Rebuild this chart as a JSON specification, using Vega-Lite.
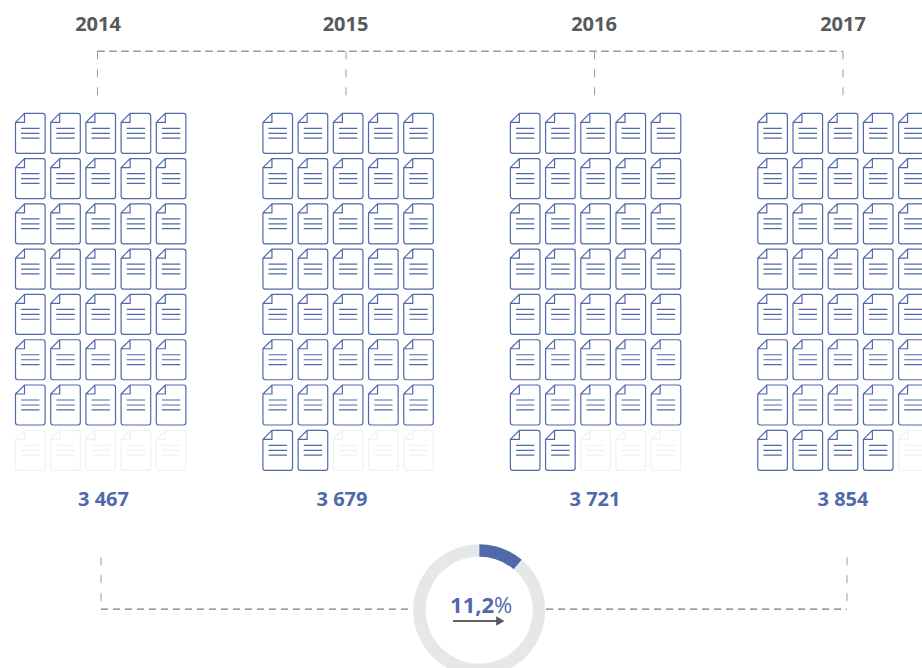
{"$schema":"https://vega.github.io/schema/vega-lite/v6.json","width":922,"height":668,"autosize":"none","padding":0,"background":"white","config":{"view":{"stroke":null},"font":"Open Sans"},"resolve":{"scale":{"x":"independent","color":"independent","theta":"independent"}},
"datasets":{"years":[{"year":2014,"total":"3 467"},{"year":2015,"total":"3 679"},{"year":2016,"total":"3 721"},{"year":2017,"total":"3 854"}],
"ring":[{"part":"growth","value":11.2,"ord":1},{"part":"rest","value":88.8,"ord":2}],
"docs":[
{"year":2014,"col":1,"row":1,"on":"y"},{"year":2014,"col":2,"row":1,"on":"y"},{"year":2014,"col":3,"row":1,"on":"y"},{"year":2014,"col":4,"row":1,"on":"y"},{"year":2014,"col":5,"row":1,"on":"y"},
{"year":2014,"col":1,"row":2,"on":"y"},{"year":2014,"col":2,"row":2,"on":"y"},{"year":2014,"col":3,"row":2,"on":"y"},{"year":2014,"col":4,"row":2,"on":"y"},{"year":2014,"col":5,"row":2,"on":"y"},
{"year":2014,"col":1,"row":3,"on":"y"},{"year":2014,"col":2,"row":3,"on":"y"},{"year":2014,"col":3,"row":3,"on":"y"},{"year":2014,"col":4,"row":3,"on":"y"},{"year":2014,"col":5,"row":3,"on":"y"},
{"year":2014,"col":1,"row":4,"on":"y"},{"year":2014,"col":2,"row":4,"on":"y"},{"year":2014,"col":3,"row":4,"on":"y"},{"year":2014,"col":4,"row":4,"on":"y"},{"year":2014,"col":5,"row":4,"on":"y"},
{"year":2014,"col":1,"row":5,"on":"y"},{"year":2014,"col":2,"row":5,"on":"y"},{"year":2014,"col":3,"row":5,"on":"y"},{"year":2014,"col":4,"row":5,"on":"y"},{"year":2014,"col":5,"row":5,"on":"y"},
{"year":2014,"col":1,"row":6,"on":"y"},{"year":2014,"col":2,"row":6,"on":"y"},{"year":2014,"col":3,"row":6,"on":"y"},{"year":2014,"col":4,"row":6,"on":"y"},{"year":2014,"col":5,"row":6,"on":"y"},
{"year":2014,"col":1,"row":7,"on":"y"},{"year":2014,"col":2,"row":7,"on":"y"},{"year":2014,"col":3,"row":7,"on":"y"},{"year":2014,"col":4,"row":7,"on":"y"},{"year":2014,"col":5,"row":7,"on":"y"},
{"year":2014,"col":1,"row":8,"on":"n"},{"year":2014,"col":2,"row":8,"on":"n"},{"year":2014,"col":3,"row":8,"on":"n"},{"year":2014,"col":4,"row":8,"on":"n"},{"year":2014,"col":5,"row":8,"on":"n"},
{"year":2015,"col":1,"row":1,"on":"y"},{"year":2015,"col":2,"row":1,"on":"y"},{"year":2015,"col":3,"row":1,"on":"y"},{"year":2015,"col":4,"row":1,"on":"y"},{"year":2015,"col":5,"row":1,"on":"y"},
{"year":2015,"col":1,"row":2,"on":"y"},{"year":2015,"col":2,"row":2,"on":"y"},{"year":2015,"col":3,"row":2,"on":"y"},{"year":2015,"col":4,"row":2,"on":"y"},{"year":2015,"col":5,"row":2,"on":"y"},
{"year":2015,"col":1,"row":3,"on":"y"},{"year":2015,"col":2,"row":3,"on":"y"},{"year":2015,"col":3,"row":3,"on":"y"},{"year":2015,"col":4,"row":3,"on":"y"},{"year":2015,"col":5,"row":3,"on":"y"},
{"year":2015,"col":1,"row":4,"on":"y"},{"year":2015,"col":2,"row":4,"on":"y"},{"year":2015,"col":3,"row":4,"on":"y"},{"year":2015,"col":4,"row":4,"on":"y"},{"year":2015,"col":5,"row":4,"on":"y"},
{"year":2015,"col":1,"row":5,"on":"y"},{"year":2015,"col":2,"row":5,"on":"y"},{"year":2015,"col":3,"row":5,"on":"y"},{"year":2015,"col":4,"row":5,"on":"y"},{"year":2015,"col":5,"row":5,"on":"y"},
{"year":2015,"col":1,"row":6,"on":"y"},{"year":2015,"col":2,"row":6,"on":"y"},{"year":2015,"col":3,"row":6,"on":"y"},{"year":2015,"col":4,"row":6,"on":"y"},{"year":2015,"col":5,"row":6,"on":"y"},
{"year":2015,"col":1,"row":7,"on":"y"},{"year":2015,"col":2,"row":7,"on":"y"},{"year":2015,"col":3,"row":7,"on":"y"},{"year":2015,"col":4,"row":7,"on":"y"},{"year":2015,"col":5,"row":7,"on":"y"},
{"year":2015,"col":1,"row":8,"on":"y"},{"year":2015,"col":2,"row":8,"on":"y"},{"year":2015,"col":3,"row":8,"on":"n"},{"year":2015,"col":4,"row":8,"on":"n"},{"year":2015,"col":5,"row":8,"on":"n"},
{"year":2016,"col":1,"row":1,"on":"y"},{"year":2016,"col":2,"row":1,"on":"y"},{"year":2016,"col":3,"row":1,"on":"y"},{"year":2016,"col":4,"row":1,"on":"y"},{"year":2016,"col":5,"row":1,"on":"y"},
{"year":2016,"col":1,"row":2,"on":"y"},{"year":2016,"col":2,"row":2,"on":"y"},{"year":2016,"col":3,"row":2,"on":"y"},{"year":2016,"col":4,"row":2,"on":"y"},{"year":2016,"col":5,"row":2,"on":"y"},
{"year":2016,"col":1,"row":3,"on":"y"},{"year":2016,"col":2,"row":3,"on":"y"},{"year":2016,"col":3,"row":3,"on":"y"},{"year":2016,"col":4,"row":3,"on":"y"},{"year":2016,"col":5,"row":3,"on":"y"},
{"year":2016,"col":1,"row":4,"on":"y"},{"year":2016,"col":2,"row":4,"on":"y"},{"year":2016,"col":3,"row":4,"on":"y"},{"year":2016,"col":4,"row":4,"on":"y"},{"year":2016,"col":5,"row":4,"on":"y"},
{"year":2016,"col":1,"row":5,"on":"y"},{"year":2016,"col":2,"row":5,"on":"y"},{"year":2016,"col":3,"row":5,"on":"y"},{"year":2016,"col":4,"row":5,"on":"y"},{"year":2016,"col":5,"row":5,"on":"y"},
{"year":2016,"col":1,"row":6,"on":"y"},{"year":2016,"col":2,"row":6,"on":"y"},{"year":2016,"col":3,"row":6,"on":"y"},{"year":2016,"col":4,"row":6,"on":"y"},{"year":2016,"col":5,"row":6,"on":"y"},
{"year":2016,"col":1,"row":7,"on":"y"},{"year":2016,"col":2,"row":7,"on":"y"},{"year":2016,"col":3,"row":7,"on":"y"},{"year":2016,"col":4,"row":7,"on":"y"},{"year":2016,"col":5,"row":7,"on":"y"},
{"year":2016,"col":1,"row":8,"on":"y"},{"year":2016,"col":2,"row":8,"on":"y"},{"year":2016,"col":3,"row":8,"on":"n"},{"year":2016,"col":4,"row":8,"on":"n"},{"year":2016,"col":5,"row":8,"on":"n"},
{"year":2017,"col":1,"row":1,"on":"y"},{"year":2017,"col":2,"row":1,"on":"y"},{"year":2017,"col":3,"row":1,"on":"y"},{"year":2017,"col":4,"row":1,"on":"y"},{"year":2017,"col":5,"row":1,"on":"y"},
{"year":2017,"col":1,"row":2,"on":"y"},{"year":2017,"col":2,"row":2,"on":"y"},{"year":2017,"col":3,"row":2,"on":"y"},{"year":2017,"col":4,"row":2,"on":"y"},{"year":2017,"col":5,"row":2,"on":"y"},
{"year":2017,"col":1,"row":3,"on":"y"},{"year":2017,"col":2,"row":3,"on":"y"},{"year":2017,"col":3,"row":3,"on":"y"},{"year":2017,"col":4,"row":3,"on":"y"},{"year":2017,"col":5,"row":3,"on":"y"},
{"year":2017,"col":1,"row":4,"on":"y"},{"year":2017,"col":2,"row":4,"on":"y"},{"year":2017,"col":3,"row":4,"on":"y"},{"year":2017,"col":4,"row":4,"on":"y"},{"year":2017,"col":5,"row":4,"on":"y"},
{"year":2017,"col":1,"row":5,"on":"y"},{"year":2017,"col":2,"row":5,"on":"y"},{"year":2017,"col":3,"row":5,"on":"y"},{"year":2017,"col":4,"row":5,"on":"y"},{"year":2017,"col":5,"row":5,"on":"y"},
{"year":2017,"col":1,"row":6,"on":"y"},{"year":2017,"col":2,"row":6,"on":"y"},{"year":2017,"col":3,"row":6,"on":"y"},{"year":2017,"col":4,"row":6,"on":"y"},{"year":2017,"col":5,"row":6,"on":"y"},
{"year":2017,"col":1,"row":7,"on":"y"},{"year":2017,"col":2,"row":7,"on":"y"},{"year":2017,"col":3,"row":7,"on":"y"},{"year":2017,"col":4,"row":7,"on":"y"},{"year":2017,"col":5,"row":7,"on":"y"},
{"year":2017,"col":1,"row":8,"on":"y"},{"year":2017,"col":2,"row":8,"on":"y"},{"year":2017,"col":3,"row":8,"on":"y"},{"year":2017,"col":4,"row":8,"on":"y"},{"year":2017,"col":5,"row":8,"on":"n"}
]},
"data":{"name":"years"},
"layer":[
{"data":{"name":"docs"},"mark":{"type":"point","filled":false,"strokeWidth":1.2,"opacity":1,"shape":"M-0.74,-0.55 L-0.29,-1 L0.62,-1 Q0.74,-1 0.74,-0.88 L0.74,0.88 Q0.74,1 0.62,1 L-0.62,1 Q-0.74,1 -0.74,0.88 Z M-0.74,-0.55 L-0.29,-0.55 L-0.29,-1 M-0.46,-0.25 L0.46,-0.25 M-0.46,0 L0.46,0 M-0.46,0.24 L0.46,0.24","size":1600},
"encoding":{"x":{"field":"year","type":"ordinal","axis":null,"scale":{"type":"point","domain":[2014,2015,2016,2017],"range":[100.7,843],"padding":0}},
"xOffset":{"field":"col","type":"ordinal","scale":{"type":"point","domain":[1,2,3,4,5],"range":[-70.4,70.4],"padding":0}},
"y":{"field":"row","type":"quantitative","axis":null,"scale":{"domain":[1,8],"range":[133.3,450.3]}},
"color":{"field":"on","type":"nominal","legend":null,"scale":{"domain":["y","n"],"range":["#4f69ab","#f0f1f3"]}}}},
{"mark":{"type":"text","fontWeight":"bold","fontSize":20,"font":"Open Sans","color":"#58595b"},"encoding":{"x":{"field":"year","type":"quantitative","axis":null,"scale":{"domain":[2014,2015,2016,2017],"range":[98,345.5,594,843]}},"y":{"datum":-1.39,"type":"quantitative"},"text":{"field":"year","type":"nominal"}}},
{"mark":{"type":"text","fontWeight":"bold","fontSize":20,"font":"Open Sans","color":"#4f69ab"},"encoding":{"x":{"field":"year","type":"quantitative","axis":null,"scale":{"domain":[2014,2015,2016,2017],"range":[103.5,342,595,843]}},"y":{"datum":9.1,"type":"quantitative"},"text":{"field":"total","type":"nominal"}}},
{"mark":{"type":"rule","stroke":"#9a9b9d","strokeWidth":1,"strokeDash":[7,5]},"encoding":{"x":{"datum":2014,"type":"quantitative","axis":null,"scale":{"domain":[2014,2017],"range":[97.5,843]}},"x2":{"datum":2017},"y":{"datum":-0.81,"type":"quantitative"}}},
{"mark":{"type":"rule","stroke":"#9a9b9d","strokeWidth":1,"strokeDash":[8,10]},"encoding":{"x":{"field":"year","type":"quantitative","axis":null,"scale":{"domain":[2014,2017],"range":[97.5,843]}},"y":{"datum":-0.81,"type":"quantitative"},"y2":{"datum":0.16}}},
{"mark":{"type":"rule","stroke":"#9a9b9d","strokeWidth":1,"strokeDash":[7,5]},"encoding":{"x":{"datum":2014,"type":"quantitative","axis":null,"scale":{"domain":[2014,2017],"range":[101,847]}},"x2":{"datum":2015.25},"y":{"datum":11.51,"type":"quantitative"}}},
{"mark":{"type":"rule","stroke":"#9a9b9d","strokeWidth":1,"strokeDash":[7,5]},"encoding":{"x":{"datum":2015.79,"type":"quantitative","axis":null,"scale":{"domain":[2014,2017],"range":[101,847]}},"x2":{"datum":2017},"y":{"datum":11.51,"type":"quantitative"}}},
{"data":{"values":[{"year":2014},{"year":2017}]},"mark":{"type":"rule","stroke":"#9a9b9d","strokeWidth":1,"strokeDash":[8,10]},"encoding":{"x":{"field":"year","type":"quantitative","axis":null,"scale":{"domain":[2014,2017],"range":[101,847]}},"y":{"datum":10.36,"type":"quantitative"},"y2":{"datum":11.51}}},
{"data":{"name":"ring"},"mark":{"type":"arc","radius":66,"radius2":53.5},"encoding":{"theta":{"field":"value","type":"quantitative","stack":true,"scale":{"domain":[0,100],"range":[0,6.283185]}},"order":{"field":"ord","type":"ordinal"},"color":{"field":"part","type":"nominal","legend":null,"scale":{"domain":["growth","rest"],"range":["#4f69ab","#e6e7e8"]}},"x":{"datum":2015.535,"type":"quantitative","axis":null,"scale":{"domain":[2014,2017],"range":[98,843]}},"y":{"datum":11.53,"type":"quantitative"}}},
{"data":{"values":[{"label":"11,2"}]},"mark":{"type":"text","align":"right","fontWeight":"bold","fontSize":22,"font":"Open Sans","color":"#4f69ab"},"encoding":{"x":{"datum":2015.595,"type":"quantitative","axis":null,"scale":{"domain":[2014,2017],"range":[98,843]}},"y":{"datum":11.43,"type":"quantitative"},"text":{"field":"label","type":"nominal"}}},
{"data":{"values":[{"label":"%"}]},"mark":{"type":"text","align":"left","fontSize":22,"font":"Open Sans","color":"#4f69ab"},"encoding":{"x":{"datum":2015.595,"type":"quantitative","axis":null,"scale":{"domain":[2014,2017],"range":[98,843]}},"y":{"datum":11.43,"type":"quantitative"},"text":{"field":"label","type":"nominal"}}},
{"mark":{"type":"rule","stroke":"#58595b","strokeWidth":1},"encoding":{"x":{"datum":2015.43,"type":"quantitative","axis":null,"scale":{"domain":[2014,2017],"range":[98,843]}},"x2":{"datum":2015.61},"y":{"datum":11.77,"type":"quantitative"}}},
{"data":{"values":[{"label":"arrow"}]},"mark":{"type":"point","shape":"triangle-right","filled":true,"size":90,"color":"#58595b","opacity":1},"encoding":{"x":{"datum":2015.62,"type":"quantitative","axis":null,"scale":{"domain":[2014,2017],"range":[98,843]}},"y":{"datum":11.77,"type":"quantitative"}}}
]}
